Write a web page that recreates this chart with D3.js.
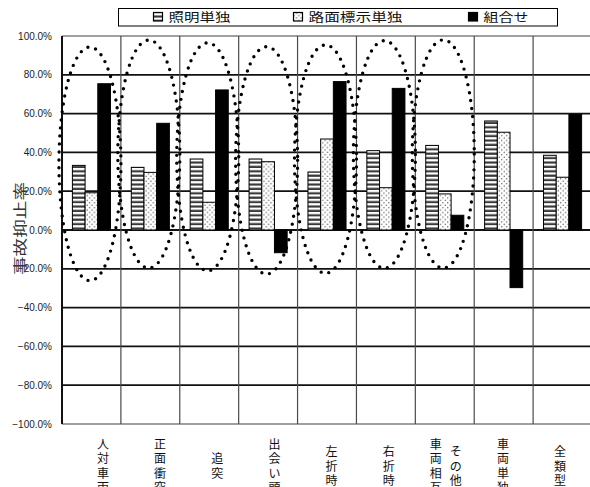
<!DOCTYPE html>
<html>
<head>
<meta charset="utf-8">
<script src="https://cdn.jsdelivr.net/npm/d3@7"></script>
<style>
  body { margin: 0; background: #fff; }
  svg { display: block; overflow: hidden; }
</style>
</head>
<body>
<svg id="chart"></svg>
<script>
// ---- data ----
const categories = ["人対車両", "正面衝突", "追突", "出会い頭", "左折時", "右折時", "車両相互その他", "車両単独", "全類型"];
const labelLines = [["人対車両"], ["正面衝突"], ["追突"], ["出会い頭"], ["左折時"], ["右折時"], ["車両相互", "その他"], ["車両単独"], ["全類型"]];
const seriesNames = ["照明単独", "路面標示単独", "組合せ"];
const lightingOnly = [0.333, 0.323, 0.366, 0.366, 0.299, 0.409, 0.436, 0.562, 0.385];
const markingOnly = [0.192, 0.297, 0.143, 0.352, 0.469, 0.218, 0.186, 0.504, 0.272];
const combined = [0.754, 0.550, 0.722, -0.117, 0.765, 0.730, 0.076, -0.297, 0.595];
const yTicks = [-1, -0.8, -0.6, -0.4, -0.2, 0, 0.2, 0.4, 0.6, 0.8, 1];
const yLabel = "事故抑止率";

// dotted ellipses drawn round the first seven categories (extent in y units)
const ellipseCats = categories.slice(0, 7);
const ellipseTop = [0.943, 0.979, 0.965, 0.945, 0.954, 0.976, 0.980];
const ellipseBottom = [-0.261, -0.196, -0.210, -0.227, -0.223, -0.197, -0.196];

class GroupedBarChart {

    constructor(_config) {
        this.config = {
            parentElement: _config.parentElement,
            containerWidth: 590,
            containerHeight: 487,
            margin: {top: 36, left: 62, plotWidth: 530, plotHeight: 388}
        };
        this.initVis();
    }

    initVis() {
        let vis = this;
        const m = vis.config.margin;
        vis.width = m.plotWidth;
        vis.height = m.plotHeight;

        vis.svg = d3.select(vis.config.parentElement)
            .attr('width', vis.config.containerWidth)
            .attr('height', vis.config.containerHeight);

        // patterns for the two hatched series
        const defs = vis.svg.append('defs');
        const stripes = defs.append('pattern')
            .attr('id', 'stripes')
            .attr('patternUnits', 'userSpaceOnUse')
            .attr('width', 6).attr('height', 4.4);
        stripes.append('rect').attr('width', 6).attr('height', 4.4).attr('fill', '#fff');
        stripes.append('rect').attr('y', 2.2).attr('width', 6).attr('height', 2.2).attr('fill', '#3a3a3a');

        const dots = defs.append('pattern')
            .attr('id', 'dots')
            .attr('patternUnits', 'userSpaceOnUse')
            .attr('width', 4.8).attr('height', 4.8);
        dots.append('rect').attr('width', 4.8).attr('height', 4.8).attr('fill', '#fff');
        dots.append('circle').attr('cx', 1.2).attr('cy', 1.2).attr('r', 0.7).attr('fill', '#555');
        dots.append('circle').attr('cx', 3.6).attr('cy', 3.6).attr('r', 0.7).attr('fill', '#555');

        vis.fills = ['url(#stripes)', 'url(#dots)', '#000'];

        vis.xScale = d3.scaleBand()
            .domain(categories)
            .range([0, vis.width])
            .padding(0);

        vis.xSub = d3.scaleBand()
            .domain(seriesNames)
            .range([0, vis.xScale.bandwidth()])
            .paddingInner(0)
            .paddingOuter(0.82);

        // the category labels sit on a slightly tighter spacing than the bars
        vis.labelScale = d3.scaleBand()
            .domain(categories)
            .range([12.4, 526.7]);

        vis.yScale = d3.scaleLinear()
            .domain([-1, 1])
            .range([vis.height, 0]);

        vis.chart = vis.svg.append('g')
            .attr('transform', `translate(${m.left},${m.top})`);

        vis.updateVis();
    }

    updateVis() {
        let vis = this;
        vis.groupedData = categories.map((c, i) => ({
            category: c,
            values: [lightingOnly[i], markingOnly[i], combined[i]]
        }));
        vis.ellipses = ellipseCats.map((c, i) => ({category: c, top: ellipseTop[i], bottom: ellipseBottom[i]}));
        vis.renderVis();
    }

    renderVis() {
        let vis = this;
        const x = vis.xScale, y = vis.yScale;

        // horizontal grid
        vis.chart.append('g')
            .selectAll('line')
            .data(yTicks)
            .join('line')
            .attr('x1', 0).attr('x2', vis.width)
            .attr('y1', d => y(d)).attr('y2', d => y(d))
            .attr('stroke', d => Math.abs(d) === 1 ? '#a0a0a0' : '#111')
            .attr('stroke-width', 1.8);

        // vertical category separators
        vis.chart.append('g')
            .selectAll('line')
            .data(categories.slice(1))
            .join('line')
            .attr('x1', d => x(d)).attr('x2', d => x(d))
            .attr('y1', y(1)).attr('y2', y(-1))
            .attr('stroke', '#4a4a4a')
            .attr('stroke-width', 1.2);

        // bars
        vis.chart.append('g')
            .selectAll('g')
            .data(vis.groupedData)
            .join('g')
            .attr('transform', d => `translate(${x(d.category)},0)`)
            .selectAll('rect')
            .data(d => d.values.map((v, j) => ({series: seriesNames[j], value: v, j: j})))
            .join('rect')
            .attr('x', d => vis.xSub(d.series))
            .attr('width', vis.xSub.bandwidth())
            .attr('y', d => y(Math.max(0, d.value)))
            .attr('height', d => Math.abs(y(d.value) - y(0)))
            .attr('fill', d => vis.fills[d.j])
            .attr('stroke', '#000')
            .attr('stroke-width', 1);

        // left axis line
        vis.chart.append('line')
            .attr('x1', 0).attr('x2', 0)
            .attr('y1', y(1)).attr('y2', y(-1))
            .attr('stroke', '#111')
            .attr('stroke-width', 2);

        // y tick labels
        const fmt = d3.format('.1%');
        vis.chart.append('g')
            .selectAll('text')
            .data(yTicks)
            .join('text')
            .attr('x', -10)
            .attr('y', d => y(d))
            .attr('dy', '0.35em')
            .attr('text-anchor', 'end')
            .attr('font-family', 'Liberation Sans, Arial, sans-serif')
            .attr('font-size', 10)
            .attr('fill', '#222')
            .text(d => fmt(d));

        // dotted ellipses
        vis.chart.append('g')
            .selectAll('ellipse')
            .data(vis.ellipses)
            .join('ellipse')
            .attr('cx', d => x(d.category) + x.bandwidth() / 2 - 1.5)
            .attr('cy', d => (y(d.top) + y(d.bottom)) / 2)
            .attr('rx', 31)
            .attr('ry', d => (y(d.bottom) - y(d.top)) / 2)
            .attr('fill', 'none')
            .attr('stroke', '#000')
            .attr('stroke-width', 3.4)
            .attr('stroke-linecap', 'round')
            .attr('stroke-dasharray', '0 8');

        // category labels, written top to bottom
        const step = 14.5;
        const labelG = vis.chart.append('g')
            .attr('font-family', 'Noto Sans CJK JP, sans-serif')
            .attr('font-size', 12)
            .attr('fill', '#111')
            .attr('text-anchor', 'middle');
        categories.forEach((c, i) => {
            const lines = labelLines[i];
            const cx = vis.labelScale(c) + vis.labelScale.bandwidth() / 2;
            lines.forEach((line, k) => {
                const colX = cx + (k - (lines.length - 1) / 2) * 20;
                const chars = Array.from(line);
                const firstY = y(-1) + 42 - (chars.length - 1) * step / 2;
                const t = labelG.append('text');
                chars.forEach((ch, n) => {
                    t.append('tspan')
                        .attr('x', colX)
                        .attr('y', firstY + n * step + 4.5)
                        .text(ch);
                });
            });
        });

        // y axis title
        vis.svg.append('text')
            .attr('transform', `translate(19,${m_top() + y(0) - 1.5}) rotate(-90)`)
            .attr('text-anchor', 'middle')
            .attr('dominant-baseline', 'central')
            .attr('font-family', 'Noto Sans CJK JP, sans-serif')
            .attr('font-size', 14)
            .attr('textLength', 93)
            .attr('lengthAdjust', 'spacingAndGlyphs')
            .attr('fill', '#333')
            .text(yLabel);

        function m_top() { return vis.config.margin.top; }

        // legend
        const legend = vis.svg.append('g');
        legend.append('rect')
            .attr('x', 118.5).attr('y', 8.5)
            .attr('width', 439).attr('height', 17.5)
            .attr('fill', '#fff')
            .attr('stroke', '#000')
            .attr('stroke-width', 1);
        const legendX = [153, 293, 468];
        const legendW = [62, 94, 45];
        seriesNames.forEach((s, j) => {
            legend.append('rect')
                .attr('x', legendX[j] + 0.5).attr('y', 12.5)
                .attr('width', 9).attr('height', 8.5)
                .attr('fill', vis.fills[j])
                .attr('stroke', '#000')
                .attr('stroke-width', 1.2);
            legend.append('text')
                .attr('x', legendX[j] + 15.5)
                .attr('y', 22)
                .attr('font-family', 'Noto Sans CJK JP, sans-serif')
                .attr('font-size', 12.5)
                .attr('textLength', legendW[j])
                .attr('lengthAdjust', 'spacingAndGlyphs')
                .attr('fill', '#111')
                .text(s);
        });
    }
}

new GroupedBarChart({parentElement: '#chart'});
</script>
</body>
</html>
